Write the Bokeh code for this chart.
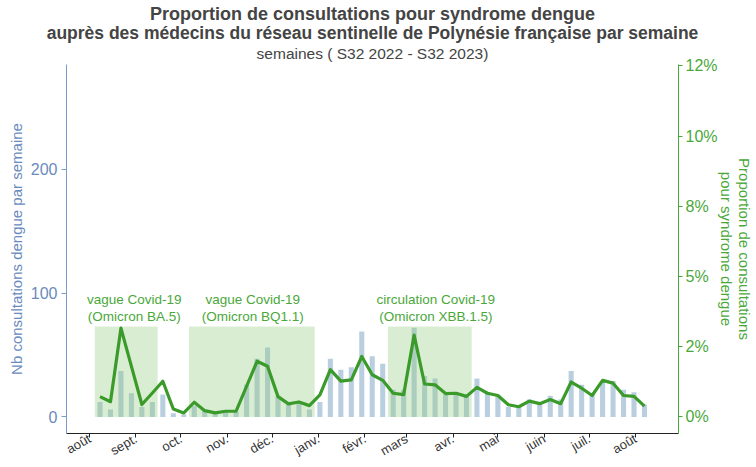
import math
import datetime as dt
import pandas as pd
from bokeh.plotting import figure
from bokeh.models import Range1d, LinearAxis, FixedTicker, Title, ColumnDataSource
from bokeh.embed import file_html
from bokeh.resources import INLINE
from bokeh.core.properties import value

# ---------------- data ----------------
week_labels = [f"S{w} 2022" for w in range(32, 53)] + [f"S{w} 2023" for w in range(1, 33)]

nb_consultations = [12, 6, 37, 19, 8, 12, 18, 3, 2, 9,
                    5, 3, 4, 4, 26, 47, 56, 17, 10, 11,
                    6, 12, 47, 38, 40, 69, 49, 43, 22, 22,
                    72, 33, 31, 18, 18, 17, 31, 20, 17, 8,
                    8, 14, 10, 17, 14, 37, 26, 18, 28, 29,
                    22, 20, 10]

proportion_pct = [0.72, 0.54, 3.16, 1.80, 0.44, 0.85, 1.27, 0.28, 0.14, 0.52,
                  0.22, 0.14, 0.20, 0.20, 1.09, 1.98, 1.80, 0.72, 0.46, 0.53,
                  0.40, 0.78, 1.68, 1.27, 1.32, 2.15, 1.50, 1.30, 0.84, 0.79,
                  2.91, 1.17, 1.14, 0.83, 0.84, 0.73, 1.05, 0.84, 0.76, 0.43,
                  0.36, 0.56, 0.47, 0.62, 0.47, 1.24, 1.02, 0.76, 1.30, 1.20,
                  0.76, 0.73, 0.38]

month_labels = ["août", "sept.", "oct.", "nov.", "déc.", "janv.", "févr.",
                "mars", "avr.", "mai", "juin", "juil.", "août"]
month_starts = ["2022-08-01", "2022-09-01", "2022-10-01", "2022-11-01", "2022-12-01",
                "2023-01-01", "2023-02-01", "2023-03-01", "2023-04-01", "2023-05-01",
                "2023-06-01", "2023-07-01", "2023-08-01"]

covid_first_week = ["S32 2022", "S41 2022", "S8 2023"]
covid_last_week = ["S37 2022", "S52 2022", "S15 2023"]
covid_line1 = ["vague Covid-19", "vague Covid-19", "circulation Covid-19"]
covid_line2 = ["(Omicron BA.5)", "(Omicron BQ1.1)", "(Omicron XBB.1.5)"]
covid_band_top = 73

left_ticks = [0, 100, 200]
right_ticks = [0, 2.5, 5, 7.5, 10, 12.5]
right_tick_labels = ["0%", "2%", "5%", "8%", "10%", "12%"]

# ---------------- helpers ----------------
def week_start(lbl):
    w, y = lbl[1:].split()
    return dt.datetime.combine(dt.date.fromisocalendar(int(y), int(w), 1), dt.time())

def ms(d):
    return (pd.Timestamp(d) - pd.Timestamp("1970-01-01")) / pd.Timedelta(milliseconds=1)

DAY = 86400000.0
week_x = [ms(week_start(w)) for w in week_labels]
month_x = [ms(m) for m in month_starts]

FONT = "Liberation Sans"
BLUE_AX = "#7b9bc8"
BLUE_TXT = "#6a8bbc"
GREEN_TXT = "#4aa83a"
GREEN_LINE = "#3a9a2a"
BAR = "#b9cfe0"

x0 = month_x[0] - 15.4 * DAY
x1 = month_x[-1] + 28.75 * DAY

p = figure(width=756, height=467, x_axis_type="datetime",
           x_range=Range1d(x0, x1), y_range=Range1d(-13.4, 284.5),
           output_backend="svg", toolbar_location=None,
           min_border_left=66, min_border_right=78, min_border_top=64,
           min_border_bottom=33)
p.outline_line_color = None
p.xgrid.visible = False
p.ygrid.visible = False
p.extra_y_ranges = {"pct": Range1d(-0.593, 12.55)}

# bars
src = ColumnDataSource(dict(x=week_x, nb=nb_consultations, pct=proportion_pct))
p.vbar(x="x", top="nb", width=3.4 * DAY, source=src, fill_color=BAR, line_color=None)

# covid bands
band_left = [ms(week_start(w)) - 3.5 * DAY for w in covid_first_week]
band_right = [ms(week_start(w)) + 3.5 * DAY for w in covid_last_week]
p.quad(left=band_left, right=band_right, bottom=[0] * 3, top=[covid_band_top] * 3,
       fill_color="#8cc97a", fill_alpha=0.33, line_color=None)

# line
p.line(x="x", y="pct", source=src, y_range_name="pct", line_color=GREEN_LINE,
       line_width=3.2, line_join="round")

# band texts
centers = [(l + r) / 2 for l, r in zip(band_left, band_right)]
nudges = [8, 1, 6]
for c, t1, t2, dx in zip(centers, covid_line1, covid_line2, nudges):
    p.text(x=[c], y=[94.5], text=[t1], x_offset=dx, text_align="center",
           text_baseline="middle", text_color=GREEN_TXT, text_font_size="13.5px",
           text_font=value(FONT))
    p.text(x=[c], y=[81], text=[t2], x_offset=dx, text_align="center",
           text_baseline="middle", text_color=GREEN_TXT, text_font_size="13.5px",
           text_font=value(FONT))

# x axis
xa = p.xaxis[0]
xa.axis_label = None
xa.ticker = FixedTicker(ticks=month_x)
xa.major_label_overrides = {int(v): l for v, l in zip(month_x, month_labels)}
xa.major_label_orientation = math.pi / 6
xa.major_label_text_font = FONT
xa.major_label_text_font_size = "13px"
xa.major_label_text_color = "#333333"
xa.major_label_standoff = 0
xa.major_tick_in = 0
xa.major_tick_out = 4
xa.minor_tick_line_color = None
xa.axis_line_color = "#222222"
xa.major_tick_line_color = "#222222"

# left axis
ya = p.yaxis[0]
ya.ticker = FixedTicker(ticks=left_ticks)
ya.axis_line_color = BLUE_AX
ya.major_tick_line_color = BLUE_AX
ya.major_tick_in = 0
ya.major_tick_out = 5
ya.minor_tick_line_color = None
ya.major_label_text_color = BLUE_TXT
ya.major_label_text_font = FONT
ya.major_label_text_font_size = "16px"
ya.major_label_standoff = 4
ya.axis_label = "Nb consultations dengue par semaine"
ya.axis_label_text_font = FONT
ya.axis_label_text_font_size = "15px"
ya.axis_label_text_font_style = "normal"
ya.axis_label_text_color = BLUE_TXT
ya.axis_label_standoff = 3

# right axis
ra = LinearAxis(y_range_name="pct", ticker=FixedTicker(ticks=right_ticks))
ra.major_label_overrides = {v: l for v, l in zip(right_ticks, right_tick_labels)}
ra.axis_line_color = GREEN_TXT
ra.major_tick_line_color = GREEN_TXT
ra.major_tick_in = 0
ra.major_tick_out = 4
ra.minor_tick_line_color = None
ra.major_label_text_color = GREEN_TXT
ra.major_label_text_font = FONT
ra.major_label_text_font_size = "16px"
ra.major_label_standoff = 3
ra.axis_label = "Proportion de consultations\npour syndrome dengue"
ra.axis_label_text_font = FONT
ra.axis_label_text_font_size = "15px"
ra.axis_label_text_font_style = "normal"
ra.axis_label_text_color = GREEN_TXT
ra.axis_label_standoff = -3
ra.axis_label_text_line_height = 1.1
p.add_layout(ra, "right")

# titles (added inner-most first)
p.add_layout(Title(text="semaines ( S32 2022 - S32 2023)", align="center",
                   text_font=FONT, text_font_size="15.5px", text_font_style="normal",
                   standoff=5), "above")
p.add_layout(Title(text="auprès des médecins du réseau sentinelle de Polynésie française par semaine",
                   align="center", text_font=FONT, text_font_size="17.5px",
                   text_font_style="bold", standoff=-4), "above")
p.add_layout(Title(text="Proportion de consultations pour syndrome dengue", align="center",
                   text_font=FONT, text_font_size="18px", text_font_style="bold",
                   standoff=-3), "above")

open("out.html", "w").write(file_html(p, INLINE))
